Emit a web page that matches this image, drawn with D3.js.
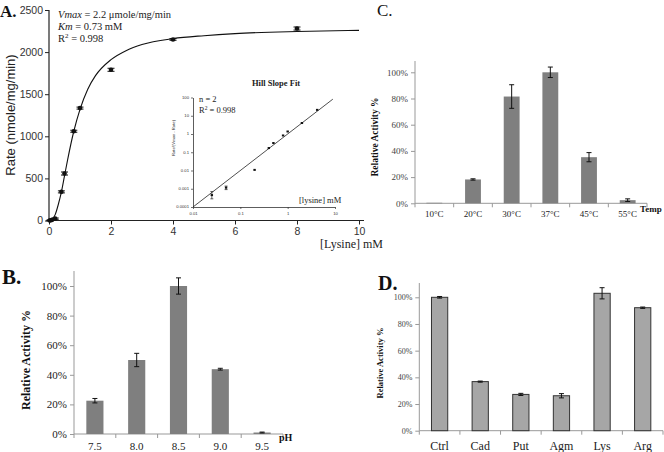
<!DOCTYPE html>
<html><head><meta charset="utf-8">
<script src="https://cdn.jsdelivr.net/npm/d3@7"></script>
<style>
body{margin:0;background:#fff;}
svg{display:block;}
</style></head>
<body>
<svg id="chart" width="664" height="452"></svg>
<script>
// ---------- Panel A data ----------
const aConc   = [0.025, 0.05, 0.1, 0.2, 0.4, 0.5, 0.8, 1.0, 2.0, 4.0, 8.0];
const aRate   = [0, 3, 8, 22, 340, 558, 1060, 1335, 1790, 2150, 2280];
const aErr    = [4, 4, 5, 8, 12, 18, 12, 12, 18, 10, 18];
const aFitX   = [0, 0.1, 0.2, 0.3, 0.4, 0.5, 0.6, 0.8, 1.0, 1.25, 1.5, 2, 2.5, 3, 4, 5, 6, 8, 10];
const aFitY   = [0, 15, 70, 190, 340, 530, 720, 1060, 1320, 1560, 1720, 1910, 2020, 2090, 2160, 2195, 2220, 2245, 2258];
const aYTicks = [0, 500, 1000, 1500, 2000, 2500];
const aXTicks = [0, 2, 4, 6, 8, 10];
// inset (Hill plot)
const hX   = [0.025, 0.05, 0.2, 0.4, 0.5, 0.8, 1.0, 2.0, 4.2];
const hY   = [0.00045, 0.00115, 0.0108, 0.17, 0.32, 0.83, 1.37, 4.0, 21];
const hErrLo = [0.00028, 0.0009, 0.0105, 0.165, 0.31, 0.81, 1.33, 3.9, 20];
const hErrHi = [0.0007, 0.0014, 0.0111, 0.175, 0.33, 0.85, 1.41, 4.1, 22];
const hLineX = [0.01, 9];
const hLineY = [0.0001, 81];
const hXTicks = [0.01, 0.1, 1, 10];
const hXTickLabels = ["0.01", "0.1", "1", "10"];
const hYTicks = [0.0001, 0.001, 0.01, 0.1, 1, 10, 100];
const hYTickLabels = ["0.0001", "0.001", "0.01", "0.1", "1", "10", "100"];

// ---------- Panel B data ----------
const bCats = ["7.5", "8.0", "8.5", "9.0", "9.5"];
const bVals = [22.5, 50, 100, 43.8, 1];
const bErr  = [1.5, 4.5, 5.5, 0.6, 0.3];
// ---------- Panel C data ----------
const cCats = ["10°C", "20°C", "30°C", "37°C", "45°C", "55°C"];
const cVals = [0.4, 18.2, 81.5, 100, 35.2, 2.4];
const cErr  = [0, 0.5, 9, 4, 3.5, 1];
// ---------- Panel D data ----------
const dCats = ["Ctrl", "Cad", "Put", "Agm", "Lys", "Arg"];
const dVals = [100, 36.8, 27.2, 26.2, 103, 92.2];
const dErr  = [0.6, 0.4, 0.8, 1.6, 4.2, 0.5];
const pctTicks = [0, 20, 40, 60, 80, 100];

const svg = d3.select("#chart");
const SERIF = "'Liberation Serif','Times New Roman',serif";
const SANS = "'Liberation Sans',Arial,sans-serif";

// ================= Panel A =================
(function(){
  const x = d3.scaleLinear().domain([0,10]).range([49,359]);
  const y = d3.scaleLinear().domain([0,2500]).range([220.5,10]);
  const g = svg.append("g");
  const xa = g.append("g").attr("transform","translate(0,220.5)")
    .call(d3.axisBottom(x).tickValues(aXTicks).tickFormat(d3.format("d")).tickSize(4).tickSizeOuter(0).tickPadding(3));
  const ya = g.append("g").attr("transform","translate(49,0)")
    .call(d3.axisLeft(y).tickValues(aYTicks).tickFormat(d3.format("d")).tickSize(4).tickSizeOuter(0).tickPadding(2));
  [xa,ya].forEach(a=>{
    a.select(".domain").attr("stroke","#222").attr("stroke-width",1.2);
    a.selectAll(".tick line").attr("stroke","#222");
    a.selectAll("text").attr("font-family",SANS).attr("font-size",10.5).attr("fill","#333");
  });
  ya.select(".domain").attr("d","M0,220.5V10");
  xa.select(".domain").attr("d","M0,0H"+(359-49+5)).attr("transform","translate(49,0)");
  // fit curve
  const fit = aFitX.map((v,i)=>[v,aFitY[i]]);
  g.append("path").datum(fit)
    .attr("d", d3.line().x(d=>x(d[0])).y(d=>y(d[1])).curve(d3.curveMonotoneX))
    .attr("fill","none").attr("stroke","#111").attr("stroke-width",1.1);
  // error bars + points
  const pts = aConc.map((c,i)=>({c, r:aRate[i], e:aErr[i]}));
  const eb = g.append("g").selectAll("g").data(pts).join("g");
  eb.append("line").attr("x1",d=>x(d.c)).attr("x2",d=>x(d.c))
    .attr("y1",d=>y(d.r+d.e)).attr("y2",d=>y(d.r-d.e)).attr("stroke","#111");
  eb.append("line").attr("x1",d=>x(d.c)-3.5).attr("x2",d=>x(d.c)+3.5)
    .attr("y1",d=>y(d.r+d.e)).attr("y2",d=>y(d.r+d.e)).attr("stroke","#111");
  eb.append("line").attr("x1",d=>x(d.c)-3.5).attr("x2",d=>x(d.c)+3.5)
    .attr("y1",d=>y(d.r-d.e)).attr("y2",d=>y(d.r-d.e)).attr("stroke","#111");
  eb.append("circle").attr("cx",d=>x(d.c)).attr("cy",d=>y(d.r)).attr("r",2.3).attr("fill","#111");

  g.append("text").attr("x",15).attr("y",115).attr("transform","rotate(-90,15,115)")
    .attr("text-anchor","middle").attr("font-family",SANS).attr("font-size",13).attr("fill","#222")
    .text("Rate (nmole/mg/min)");
  g.append("text").attr("x",320).attr("y",248).attr("font-family",SERIF).attr("font-size",12).attr("fill","#222")
    .text("[Lysine] mM");
  g.append("text").attr("x",0).attr("y",17).attr("font-family",SERIF).attr("font-size",17)
    .attr("font-weight","bold").attr("fill","#111").text("A.");
  const t = g.append("g").attr("font-family",SERIF).attr("font-size",10.5).attr("fill","#222");
  const t1 = t.append("text").attr("x",58).attr("y",18);
  t1.append("tspan").attr("font-style","italic").text("Vmax");
  t1.append("tspan").text(" = 2.2 μmole/mg/min");
  const t2 = t.append("text").attr("x",58).attr("y",30);
  t2.append("tspan").attr("font-style","italic").text("Km");
  t2.append("tspan").text(" = 0.73 mM");
  const t3 = t.append("text").attr("x",58).attr("y",42);
  t3.append("tspan").text("R");
  t3.append("tspan").attr("font-size",7).attr("dy",-4).text("2");
  t3.append("tspan").attr("dy",4).text(" = 0.998");

  // ---- inset ----
  const hx = d3.scaleLog().domain([0.01,10]).range([193,335]);
  const hy = d3.scaleLog().domain([0.0001,100]).range([207,97.5]);
  const ig = g.append("g");
  const ixa = ig.append("g").attr("transform","translate(0,207)")
    .call(d3.axisBottom(hx).tickValues(hXTicks).tickFormat((d,i)=>hXTickLabels[i]).tickSize(2).tickSizeOuter(0).tickPadding(3));
  const iya = ig.append("g").attr("transform","translate(193,0)")
    .call(d3.axisLeft(hy).tickValues(hYTicks).tickFormat((d,i)=>hYTickLabels[i]).tickSize(2).tickSizeOuter(0).tickPadding(2));
  [ixa,iya].forEach(a=>{
    a.select(".domain").attr("stroke","#333").attr("stroke-width",0.8);
    a.selectAll(".tick line").attr("stroke","#333").attr("stroke-width",0.7);
    a.selectAll("text").attr("font-family",SANS).attr("font-size",4.2).attr("fill","#333");
  });
  iya.selectAll(".tick text").attr("dy","0.2em");
  ig.append("path").datum(hLineX.map((v,i)=>[v,hLineY[i]]))
    .attr("d", d3.line().x(d=>hx(d[0])).y(d=>hy(d[1])))
    .attr("fill","none").attr("stroke","#222").attr("stroke-width",0.8);
  const hp = hX.map((v,i)=>({x:v,y:hY[i],lo:hErrLo[i],hi:hErrHi[i]}));
  const hg = ig.append("g").selectAll("g").data(hp).join("g");
  hg.append("line").attr("x1",d=>hx(d.x)).attr("x2",d=>hx(d.x))
    .attr("y1",d=>hy(d.hi)).attr("y2",d=>hy(d.lo)).attr("stroke","#222").attr("stroke-width",0.7);
  hg.filter(d=>d.x<0.1).append("line").attr("x1",d=>hx(d.x)-1.5).attr("x2",d=>hx(d.x)+1.5)
    .attr("y1",d=>hy(d.hi)).attr("y2",d=>hy(d.hi)).attr("stroke","#222").attr("stroke-width",0.7);
  hg.filter(d=>d.x<0.1).append("line").attr("x1",d=>hx(d.x)-1.5).attr("x2",d=>hx(d.x)+1.5)
    .attr("y1",d=>hy(d.lo)).attr("y2",d=>hy(d.lo)).attr("stroke","#222").attr("stroke-width",0.7);
  hg.append("rect").attr("x",d=>hx(d.x)-1.2).attr("y",d=>hy(d.y)-1).attr("width",2.4).attr("height",2)
    .attr("fill","#111");
  ig.append("text").attr("x",276).attr("y",86).attr("text-anchor","middle").attr("font-family",SERIF)
    .attr("font-size",8.5).attr("font-weight","bold").attr("fill","#222").text("Hill Slope Fit");
  ig.append("text").attr("x",199).attr("y",102).attr("font-family",SERIF).attr("font-size",8.5).attr("fill","#222").text("n = 2");
  const r2 = ig.append("text").attr("x",199).attr("y",113).attr("font-family",SERIF).attr("font-size",8.5).attr("fill","#222");
  r2.append("tspan").attr("fill","#222").text("R");
  r2.append("tspan").attr("fill","#222").attr("font-size",5.5).attr("dy",-3).text("2");
  r2.append("tspan").attr("fill","#222").attr("dy",3).text(" = 0.998");
  ig.append("text").attr("x",175).attr("y",138).attr("transform","rotate(-90,175,138)")
    .attr("text-anchor","middle").attr("font-family",SANS).attr("font-size",4.2).attr("fill","#333")
    .text("Rate/(Vmax - Rate)");
  ig.append("text").attr("x",299).attr("y",203).attr("font-family",SERIF).attr("font-size",8.5).attr("fill","#222")
    .text("[lysine] mM");
})();

// ================= bar panel helper =================
function barPanel(o){
  const g = svg.append("g");
  const x = d3.scaleBand().domain(o.cats).range([o.x0,o.x1]).paddingInner(o.pad).paddingOuter(o.pad/2);
  const y = d3.scaleLinear().domain([0,100]).range([o.y0,o.y100]);
  const band = (o.x1-o.x0)/o.cats.length;
  // y axis
  const ya = g.append("g").attr("transform",`translate(${o.x0},0)`)
    .call(d3.axisLeft(y).tickValues(pctTicks).tickFormat(d=>d+"%").tickSize(4).tickSizeOuter(0).tickPadding(3));
  ya.select(".domain").attr("d",`M0,${o.y0}V${o.yTop}`).attr("stroke","#999");
  ya.selectAll(".tick line").attr("stroke","#999");
  ya.selectAll("text").attr("font-family",SERIF).attr("font-size",o.tickFs).attr("fill",o.tickCol);
  // x axis line with boundary ticks
  g.append("line").attr("x1",o.x0).attr("x2",o.x1).attr("y1",o.y0).attr("y2",o.y0).attr("stroke","#999");
  g.append("g").selectAll("line").data(d3.range(o.cats.length+1)).join("line")
    .attr("x1",i=>o.x0+i*band).attr("x2",i=>o.x0+i*band)
    .attr("y1",o.y0).attr("y2",o.y0+4).attr("stroke","#999");
  // bars
  g.append("g").selectAll("rect").data(o.vals).join("rect")
    .attr("x",(d,i)=>x(o.cats[i])).attr("width",x.bandwidth())
    .attr("y",d=>y(d)).attr("height",d=>o.y0-y(d))
    .attr("fill",o.fill).attr("stroke",o.stroke||"none").attr("stroke-width",o.stroke?1:0);
  // error bars
  const eg = g.append("g").selectAll("g").data(o.vals.map((v,i)=>({v,e:o.err[i],c:o.cats[i]})).filter(d=>d.e>0)).join("g");
  const cx = d=>x(d.c)+x.bandwidth()/2;
  eg.append("line").attr("x1",cx).attr("x2",cx).attr("y1",d=>y(d.v+d.e)).attr("y2",d=>y(d.v-d.e)).attr("stroke","#111");
  eg.append("line").attr("x1",d=>cx(d)-2.5).attr("x2",d=>cx(d)+2.5).attr("y1",d=>y(d.v+d.e)).attr("y2",d=>y(d.v+d.e)).attr("stroke","#111");
  eg.append("line").attr("x1",d=>cx(d)-2.5).attr("x2",d=>cx(d)+2.5).attr("y1",d=>y(d.v-d.e)).attr("y2",d=>y(d.v-d.e)).attr("stroke","#111");
  // category labels
  g.append("g").selectAll("text").data(o.cats).join("text")
    .attr("x",d=>x(d)+x.bandwidth()/2).attr("y",o.catY).attr("text-anchor","middle")
    .attr("font-family",SERIF).attr("font-size",o.catFs).attr("fill","#222").text(d=>d);
  // y label
  g.append("text").attr("x",o.ylx).attr("y",o.yly).attr("transform",`rotate(-90,${o.ylx},${o.yly})`)
    .attr("text-anchor","middle").attr("font-family",SERIF).attr("font-size",o.ylFs).attr("font-weight","bold")
    .attr("fill","#111").text("Relative Activity %");
  if(o.unit) g.append("text").attr("x",o.unit.x).attr("y",o.unit.y).attr("font-family",SERIF)
    .attr("font-size",o.unit.fs).attr("font-weight","bold").attr("fill","#111").text(o.unit.t);
  g.append("text").attr("x",o.letter.x).attr("y",o.letter.y).attr("font-family",SERIF)
    .attr("font-size",o.letter.fs).attr("font-weight",o.letter.w).attr("fill","#111").text(o.letter.t);
}

// Panel B
barPanel({cats:bCats, vals:bVals, err:bErr, x0:74, x1:283, y0:434, y100:286, yTop:271, pad:0.59,
  fill:"#7f7f7f", tickFs:11, tickCol:"#222", catFs:11, catY:450, ylx:30, yly:360, ylFs:12,
  unit:{t:"pH", x:279, y:441, fs:10}, letter:{t:"B.", x:2, y:284, fs:21, w:"bold"}});
// Panel C
barPanel({cats:cCats, vals:cVals, err:cErr, x0:415, x1:647, y0:203.3, y100:72.3, yTop:61, pad:0.59,
  fill:"#7f7f7f", tickFs:9, tickCol:"#444", catFs:9, catY:217, ylx:378, yly:137, ylFs:9.5,
  unit:{t:"Temp", x:640, y:212, fs:9}, letter:{t:"C.", x:377, y:16, fs:17, w:"normal"}});
// Panel D
barPanel({cats:dCats, vals:dVals, err:dErr, x0:419.3, x1:663, y0:430.7, y100:297.3, yTop:283, pad:0.6,
  fill:"#a6a6a6", stroke:"#333", tickFs:8, tickCol:"#444", catFs:12, catY:450, ylx:383, yly:363, ylFs:8.5,
  unit:null, letter:{t:"D.", x:378, y:290, fs:20, w:"bold"}});
</script>
</body></html>
